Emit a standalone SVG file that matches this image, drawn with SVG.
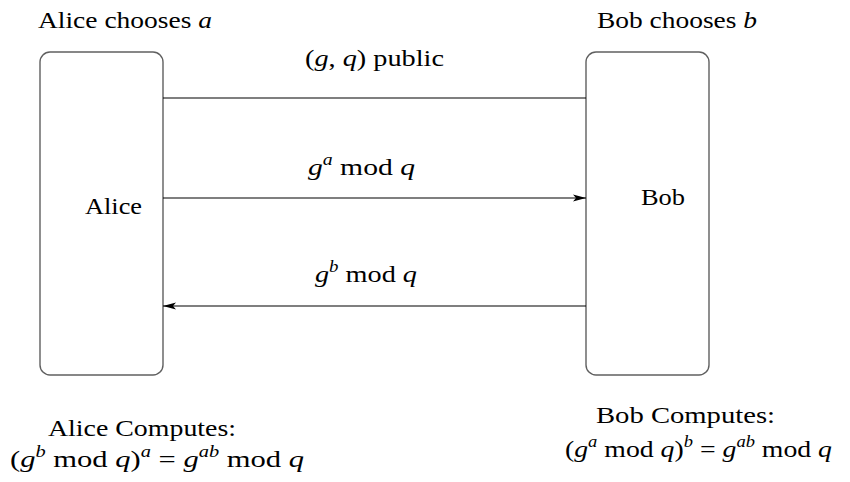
<svg xmlns="http://www.w3.org/2000/svg" width="850" height="482" viewBox="0 0 850 482">
  <style>
    text { font-family: "Liberation Serif", "DejaVu Serif", serif; font-size: 24px; fill: #000; }
    .it { font-style: italic; }
    .sup { font-size: 16px; font-style: italic; }
    .box { fill: #fff; stroke: #606060; stroke-width: 1.4; }
    .wire { stroke: #000; stroke-width: 1.2; fill: none; }
  </style>
  <defs>
    <marker id="arrow" viewBox="0 0 13 8" refX="13" refY="4" markerWidth="13" markerHeight="8" markerUnits="userSpaceOnUse" orient="auto">
      <path d="M0,0.5 L13,4 L0,7.5 L3,4 Z" fill="#000"/>
    </marker>
  </defs>
  <rect width="850" height="482" fill="#fff"/>

  <g id="alice">
    <rect class="box" x="40" y="52" width="123" height="323" rx="10" ry="10"/>
    <text x="85" y="214" textLength="57" lengthAdjust="spacingAndGlyphs">Alice</text>
  </g>

  <g id="bob">
    <rect class="box" x="586" y="52" width="123" height="323" rx="10" ry="10"/>
    <text x="641" y="205" textLength="44" lengthAdjust="spacingAndGlyphs">Bob</text>
  </g>

  <g id="connectors">
    <line class="wire" x1="163" y1="98" x2="586" y2="98"/>
    <line class="wire" x1="163" y1="198" x2="586" y2="198" marker-end="url(#arrow)"/>
    <line class="wire" x1="586" y1="306" x2="163" y2="306" marker-end="url(#arrow)"/>
  </g>

  <g id="labels">
    <text x="38" y="28" textLength="174" lengthAdjust="spacingAndGlyphs">Alice chooses <tspan class="it">a</tspan></text>
    <text x="597" y="28" textLength="160" lengthAdjust="spacingAndGlyphs">Bob chooses <tspan class="it">b</tspan></text>
    <text x="305" y="66" textLength="139" lengthAdjust="spacingAndGlyphs">(<tspan class="it">g</tspan>, <tspan class="it">q</tspan>)  public</text>
    <text x="308" y="175" textLength="107" lengthAdjust="spacingAndGlyphs"><tspan class="it">g</tspan><tspan class="sup" dy="-10">a</tspan><tspan dy="10"> mod </tspan><tspan class="it">q</tspan></text>
    <text x="315" y="282" textLength="102" lengthAdjust="spacingAndGlyphs"><tspan class="it">g</tspan><tspan class="sup" dy="-10">b</tspan><tspan dy="10"> mod </tspan><tspan class="it">q</tspan></text>
  </g>

  <g id="alice-result">
    <text x="48" y="436" textLength="188" lengthAdjust="spacingAndGlyphs">Alice Computes:</text>
    <text x="10" y="467" textLength="294" lengthAdjust="spacingAndGlyphs">(<tspan class="it">g</tspan><tspan class="sup" dy="-10">b</tspan><tspan dy="10"> mod </tspan><tspan class="it">q</tspan>)<tspan class="sup" dy="-10">a</tspan><tspan dy="10"> = </tspan><tspan class="it">g</tspan><tspan class="sup" dy="-10">ab</tspan><tspan dy="10"> mod </tspan><tspan class="it">q</tspan></text>
  </g>

  <g id="bob-result">
    <text x="596" y="423" textLength="179" lengthAdjust="spacingAndGlyphs">Bob Computes:</text>
    <text x="565" y="457" textLength="267" lengthAdjust="spacingAndGlyphs">(<tspan class="it">g</tspan><tspan class="sup" dy="-10">a</tspan><tspan dy="10"> mod </tspan><tspan class="it">q</tspan>)<tspan class="sup" dy="-10">b</tspan><tspan dy="10"> = </tspan><tspan class="it">g</tspan><tspan class="sup" dy="-10">ab</tspan><tspan dy="10"> mod </tspan><tspan class="it">q</tspan></text>
  </g>
</svg>
